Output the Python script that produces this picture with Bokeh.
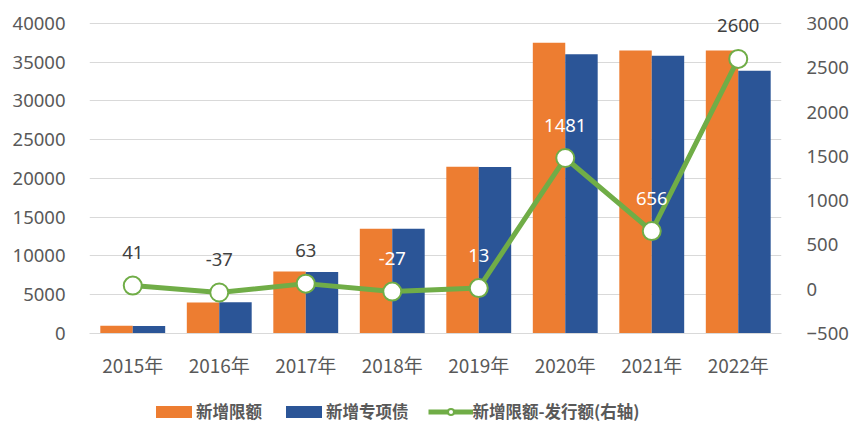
from bokeh.plotting import figure
from bokeh.models import (FactorRange, Range1d, LinearAxis, FixedTicker, Legend,
                          LegendItem, ColumnDataSource)
from bokeh.layouts import column
from bokeh.transform import dodge
from bokeh.core.properties import value
from bokeh.embed import file_html
from bokeh.resources import INLINE

# ---- data ----
years = ["2015年", "2016年", "2017年", "2018年", "2019年", "2020年", "2021年", "2022年"]
new_limit = [1000, 4000, 8000, 13500, 21500, 37500, 36500, 36500]
new_special_bond = [959, 4037, 7937, 13527, 21487, 36019, 35844, 33900]
limit_minus_issued = [41, -37, 63, -27, 13, 1481, 656, 2600]
left_ticks = [0, 5000, 10000, 15000, 20000, 25000, 30000, 35000, 40000]
right_ticks = [-500, 0, 500, 1000, 1500, 2000, 2500, 3000]
series_names = ["新增限额", "新增专项债", "新增限额-发行额(右轴)"]

# ---- styles ----
ORANGE = "#ED7D31"
BLUE = "#2B5597"
GREEN = "#70AD47"
TEXT = "#595959"
GRID = "#D9D9D9"
label_colors = ["#404040", "#404040", "#404040", "white", "white", "white", "white", "#404040"]

src = ColumnDataSource(dict(
    year=years, limit=new_limit, bond=new_special_bond, diff=limit_minus_issued,
    label=[str(v) for v in limit_minus_issued], lcolor=label_colors,
))

p = figure(x_range=FactorRange(*years), y_range=Range1d(0, 41286),
           width=851, height=380, output_backend="svg", toolbar_location=None,
           min_border_left=89, min_border_right=61, min_border_top=13, min_border_bottom=46)
p.extra_y_ranges = {"right": Range1d(-500, 3112.5)}

p.outline_line_color = None
p.xgrid.grid_line_color = None
p.ygrid.grid_line_color = GRID
p.ygrid.grid_line_width = 1
p.background_fill_color = "white"
p.border_fill_color = "white"

p.vbar(x=dodge("year", -0.1875, range=p.x_range), top="limit", width=0.375,
       source=src, fill_color=ORANGE, line_color=None)
p.vbar(x=dodge("year", 0.1875, range=p.x_range), top="bond", width=0.375,
       source=src, fill_color=BLUE, line_color=None)
p.line(x="year", y="diff", y_range_name="right", source=src,
       line_width=5, line_color=GREEN)
p.scatter(x="year", y="diff", y_range_name="right", source=src, size=18,
          fill_color="white", line_color=GREEN, line_width=2)
p.text(x="year", y="diff", text="label", y_range_name="right", source=src,
       y_offset=-33, text_align="center", text_baseline="middle",
       text_color="lcolor", text_font=value("Noto Sans"), text_font_size="18.5px")

# axes
yl = p.yaxis[0]
yl.ticker = FixedTicker(ticks=left_ticks)
yl.axis_line_color = None
yl.major_tick_line_color = None
yl.minor_tick_line_color = None
yl.major_label_text_color = TEXT
yl.major_label_text_font = "Noto Sans"
yl.major_label_text_font_size = "18.5px"
yl.major_label_standoff = 18

yr = LinearAxis(y_range_name="right", ticker=FixedTicker(ticks=right_ticks))
yr.axis_line_color = None
yr.major_tick_line_color = None
yr.minor_tick_line_color = None
yr.major_label_text_color = TEXT
yr.major_label_text_font = "Noto Sans"
yr.major_label_text_font_size = "18.5px"
yr.major_label_standoff = 19
p.add_layout(yr, "right")

xa = p.xaxis[0]
xa.axis_line_color = GRID
xa.major_tick_line_color = None
xa.minor_tick_line_color = None
xa.major_label_text_color = TEXT
xa.major_label_text_font = "Noto Sans CJK SC"
xa.major_label_text_font_size = "19px"
xa.major_label_standoff = 11

# ---- legend strip ----
lf = figure(width=851, height=48, output_backend="svg", toolbar_location=None,
            min_border=0, x_range=Range1d(0, 1), y_range=Range1d(0, 1))
lf.axis.visible = False
lf.grid.visible = False
lf.outline_line_color = None
lf.background_fill_color = "white"
lf.border_fill_color = "white"
# legend-only renderers placed outside the visible range
g1 = lf.vbar(x=[-10], top=[-10], width=0.1, fill_color=ORANGE, line_color=None)
g2 = lf.vbar(x=[-10], top=[-10], width=0.1, fill_color=BLUE, line_color=None)
g3 = lf.line(x=[-10, -9], y=[-10, -10], line_width=5, line_color=GREEN)
g4 = lf.scatter(x=[-10], y=[-10], fill_color="white", line_color=GREEN, line_width=2)

legend = Legend(items=[
    LegendItem(label=series_names[0], renderers=[g1]),
    LegendItem(label=series_names[1], renderers=[g2]),
    LegendItem(label=series_names[2], renderers=[g3, g4]),
], orientation="horizontal", location=(62, 5))
legend.background_fill_alpha = 0
legend.border_line_color = None
legend.padding = 0
legend.margin = 0
legend.spacing = 19
legend.label_standoff = 0
legend.glyph_width = 45
legend.glyph_height = 15
legend.label_text_font = "Noto Sans CJK SC"
legend.label_text_font_style = "bold"
legend.label_text_font_size = "16.5px"
legend.label_text_color = TEXT
lf.add_layout(legend, "center")

layout = column(p, lf, spacing=0)
open("out.html", "w").write(file_html(layout, INLINE))
